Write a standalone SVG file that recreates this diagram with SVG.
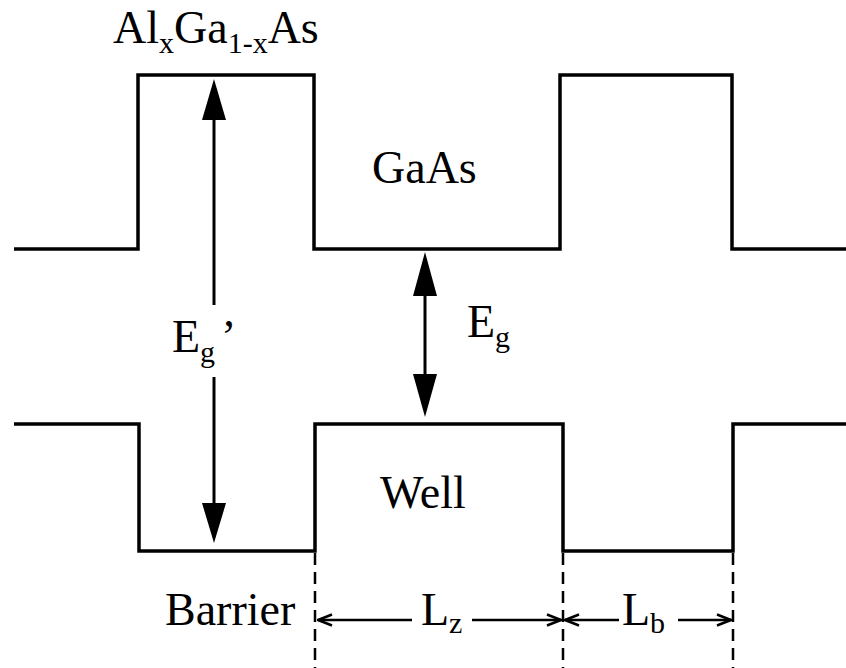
<svg xmlns="http://www.w3.org/2000/svg" width="846" height="668" viewBox="0 0 846 668">
<style>
.prof{fill:none;stroke:#000;stroke-width:3.5;stroke-linejoin:miter}
.shaft{stroke:#000;stroke-width:3;fill:none}
.dash{stroke:#000;stroke-width:2.5;stroke-dasharray:12 7;fill:none}
.dim{stroke:#000;stroke-width:2.5;fill:none}
.head{fill:#000}
.lbl{font-family:"Liberation Serif","Times New Roman",serif;font-size:46px;fill:#000}
.sub{font-size:30px}
</style>
<defs>
<marker id="open" viewBox="0 0 16 14" refX="15" refY="7" markerWidth="16" markerHeight="14" markerUnits="userSpaceOnUse" orient="auto-start-reverse">
<path d="M1,1.5 L15,7 L1,12.5" fill="none" stroke="#000" stroke-width="2.5"/>
</marker>
</defs>
<rect width="846" height="668" fill="#fff"/>
<g id="conduction-band">
<path class="prof" d="M14,249 H138 V75 H314 V249 H560 V75 H732 V249 H846"/>
</g>
<g id="valence-band">
<path class="prof" d="M14,424 H139 V551 H315 V424 H563 V551 H733 V424 H846"/>
</g>
<g id="connectors">
<g id="eg-prime-arrow">
<line class="shaft" x1="214" y1="118" x2="214" y2="305"/>
<line class="shaft" x1="214" y1="377" x2="214" y2="505"/>
<polygon class="head" points="214,79 202,120 226,120"/>
<polygon class="head" points="214,543 202,503 226,503"/>
</g>
<g id="eg-arrow">
<line class="shaft" x1="425" y1="294" x2="425" y2="376"/>
<polygon class="head" points="425,252 413,296 437,296"/>
<polygon class="head" points="425,417 413,374 437,374"/>
</g>
<g id="dashes">
<line class="dash" x1="315" y1="553" x2="315" y2="668"/>
<line class="dash" x1="563" y1="553" x2="563" y2="668"/>
<line class="dash" x1="733" y1="553" x2="733" y2="668"/>
</g>
<g id="lz-dim">
<line class="dim" x1="412" y1="620" x2="318" y2="620" marker-end="url(#open)"/>
<line class="dim" x1="472" y1="620" x2="561" y2="620" marker-end="url(#open)"/>
</g>
<g id="lb-dim">
<line class="dim" x1="619" y1="620" x2="565" y2="620" marker-end="url(#open)"/>
<line class="dim" x1="678" y1="620" x2="731" y2="620" marker-end="url(#open)"/>
</g>
</g>
<g id="label-algaas"><text class="lbl" x="113" y="43" font-size="44">Al<tspan class="sub" dy="10">x</tspan><tspan dy="-10">Ga</tspan><tspan class="sub" dy="10">1-x</tspan><tspan dy="-10">As</tspan></text></g>
<g id="label-gaas"><text class="lbl" x="372" y="183" font-size="48">GaAs</text></g>
<g id="label-egp"><text class="lbl" x="172" y="352" font-size="48">E<tspan class="sub" dy="10">g</tspan><tspan dy="-10" dx="6">’</tspan></text></g>
<g id="label-eg"><text class="lbl" x="467" y="337" font-size="48">E<tspan class="sub" dy="10">g</tspan></text></g>
<g id="label-well"><text class="lbl" x="380" y="508" font-size="48">Well</text></g>
<g id="label-barrier"><text class="lbl" x="165" y="625">Barrier</text></g>
<g id="label-lz"><text class="lbl" x="421" y="625">L<tspan class="sub" dy="8">z</tspan></text></g>
<g id="label-lb"><text class="lbl" x="622" y="625">L<tspan class="sub" dy="8">b</tspan></text></g>
</svg>
